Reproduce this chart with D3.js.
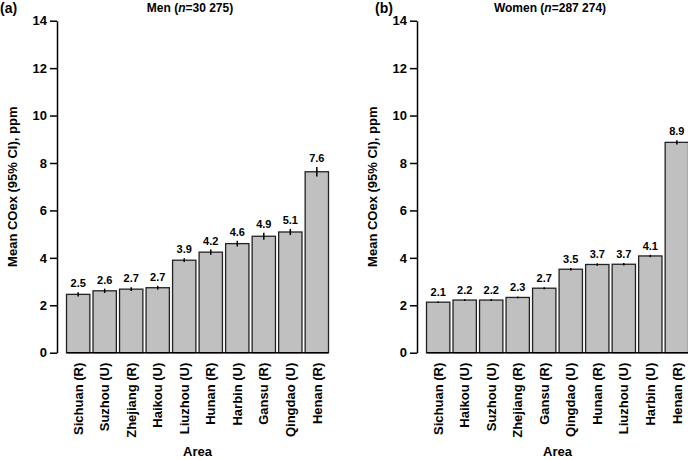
<!DOCTYPE html>
<html>
<head>
<meta charset="utf-8">
<title>Mean COex by area</title>
<script src="https://cdn.jsdelivr.net/npm/d3@7"></script>
<style>
	body { margin: 0; background: #fff; }
	svg { display: block; font-family: "Liberation Sans", Arial, Helvetica, sans-serif; font-weight: bold; }
</style>
</head>
<body>
<svg id="chart" width="688" height="460"></svg>
<script>
	// men, panel (a)
	var menAreas = ['Sichuan (R)', 'Suzhou (U)', 'Zhejiang (R)', 'Haikou (U)', 'Liuzhou (U)',
		'Hunan (R)', 'Harbin (U)', 'Gansu (R)', 'Qingdao (U)', 'Henan (R)']
	var menMeans = [2.46, 2.61, 2.68, 2.74, 3.90, 4.24, 4.60, 4.91, 5.09, 7.63]
	var menCI = [0.09, 0.09, 0.08, 0.08, 0.08, 0.11, 0.12, 0.15, 0.13, 0.2]
	var menLabels = ['2.5', '2.6', '2.7', '2.7', '3.9', '4.2', '4.6', '4.9', '5.1', '7.6']

	// women, panel (b)
	var womenAreas = ['Sichuan (R)', 'Haikou (U)', 'Suzhou (U)', 'Zhejiang (R)', 'Gansu (R)',
		'Qingdao (U)', 'Hunan (R)', 'Liuzhou (U)', 'Harbin (U)', 'Henan (R)']
	var womenMeans = [2.13, 2.22, 2.22, 2.33, 2.72, 3.52, 3.72, 3.73, 4.08, 8.87]
	var womenCI = [0.03, 0.04, 0.04, 0.04, 0.04, 0.05, 0.05, 0.05, 0.05, 0.09]
	var womenLabels = ['2.1', '2.2', '2.2', '2.3', '2.7', '3.5', '3.7', '3.7', '4.1', '8.9']

	var yTicks = [0, 2, 4, 6, 8, 10, 12, 14]

	var svg = d3.select('#chart')

	var y = d3.scaleLinear().domain([0, 14]).range([352.7, 20.7])

	function drawPanel(offset, letter, group, n, areas, means, ci, labels) {
		var g = svg.append('g').attr('transform', 'translate(' + offset + ',0)')

		var x = d3.scaleBand()
			.domain(areas)
			.range([66.5, 328.5])
			.paddingInner(0.12)
			.paddingOuter(0)

		// y axis
		var ya = g.append('g')
			.attr('transform', 'translate(57,0)')
			.call(d3.axisLeft(y).tickValues(yTicks).tickSize(7).tickSizeOuter(0).tickPadding(3))
		ya.select('.domain').attr('stroke', '#000').attr('stroke-width', 1.5)
		ya.selectAll('.tick line').attr('stroke', '#000').attr('stroke-width', 1.5)
		ya.selectAll('.tick text')
			.attr('font-size', 13)
			.attr('font-family', '"Liberation Sans", Arial, sans-serif')
			.attr('font-weight', 'bold')
			.attr('fill', '#000')

		// bars
		var bars = g.append('g').selectAll('.bar').data(means).enter()

		bars.append('rect')
			.attr('x', function(d, i) { return x(areas[i]) })
			.attr('y', function(d) { return y(d) })
			.attr('width', x.bandwidth())
			.attr('height', function(d) { return y(0) - y(d) })
			.attr('fill', '#c0c0c0')
			.attr('stroke', '#222')
			.attr('stroke-width', 1.3)

		// error bars
		bars.append('line')
			.attr('x1', function(d, i) { return x(areas[i]) + x.bandwidth() / 2 })
			.attr('x2', function(d, i) { return x(areas[i]) + x.bandwidth() / 2 })
			.attr('y1', function(d, i) { return y(d - ci[i]) })
			.attr('y2', function(d, i) { return y(d + ci[i]) })
			.attr('stroke', '#000')
			.attr('stroke-width', 1.5)

		// value labels
		bars.append('text')
			.attr('x', function(d, i) { return x(areas[i]) + x.bandwidth() / 2 })
			.attr('y', function(d, i) { return y(d + ci[i]) - 5 })
			.attr('text-anchor', 'middle')
			.attr('font-size', 11)
			.text(function(d, i) { return labels[i] })

		// baseline under bars
		g.append('line')
			.attr('x1', 66.5).attr('x2', 328.5)
			.attr('y1', y(0)).attr('y2', y(0))
			.attr('stroke', '#000')
			.attr('stroke-width', 1.5)

		// category labels
		var xa = g.append('g')
			.attr('transform', 'translate(0,' + y(0) + ')')
			.call(d3.axisBottom(x).tickSize(0).tickPadding(0))
		xa.select('.domain').remove()
		xa.selectAll('.tick text')
			.attr('transform', 'rotate(-90)')
			.attr('x', -10)
			.attr('y', 0)
			.attr('dy', '0.36em')
			.attr('text-anchor', 'end')
			.attr('font-size', 13)
			.attr('font-family', '"Liberation Sans", Arial, sans-serif')
			.attr('font-weight', 'bold')
			.attr('fill', '#000')

		g.append('text')
			.attr('x', 197.5)
			.attr('y', 456)
			.attr('text-anchor', 'middle')
			.attr('font-size', 13)
			.text('Area')

		g.append('text')
			.attr('transform', 'translate(17,' + ((y(0) + y(14)) / 2) + ') rotate(-90)')
			.attr('text-anchor', 'middle')
			.attr('font-size', 13)
			.text('Mean COex (95% CI), ppm')

		// title
		var t = g.append('text')
			.attr('x', 190)
			.attr('y', 12)
			.attr('text-anchor', 'middle')
			.attr('font-size', 12)
		t.append('tspan').text(group + ' (')
		t.append('tspan').attr('font-style', 'italic').text('n')
		t.append('tspan').text('=' + n + ')')

		g.append('text')
			.attr('x', letter == '(a)' ? 0 : 15)
			.attr('y', 13)
			.attr('font-size', 14)
			.text(letter)
	}

	drawPanel(0, '(a)', 'Men', '30 275', menAreas, menMeans, menCI, menLabels)
	drawPanel(360, '(b)', 'Women', '287 274', womenAreas, womenMeans, womenCI, womenLabels)
</script>
</body>
</html>
